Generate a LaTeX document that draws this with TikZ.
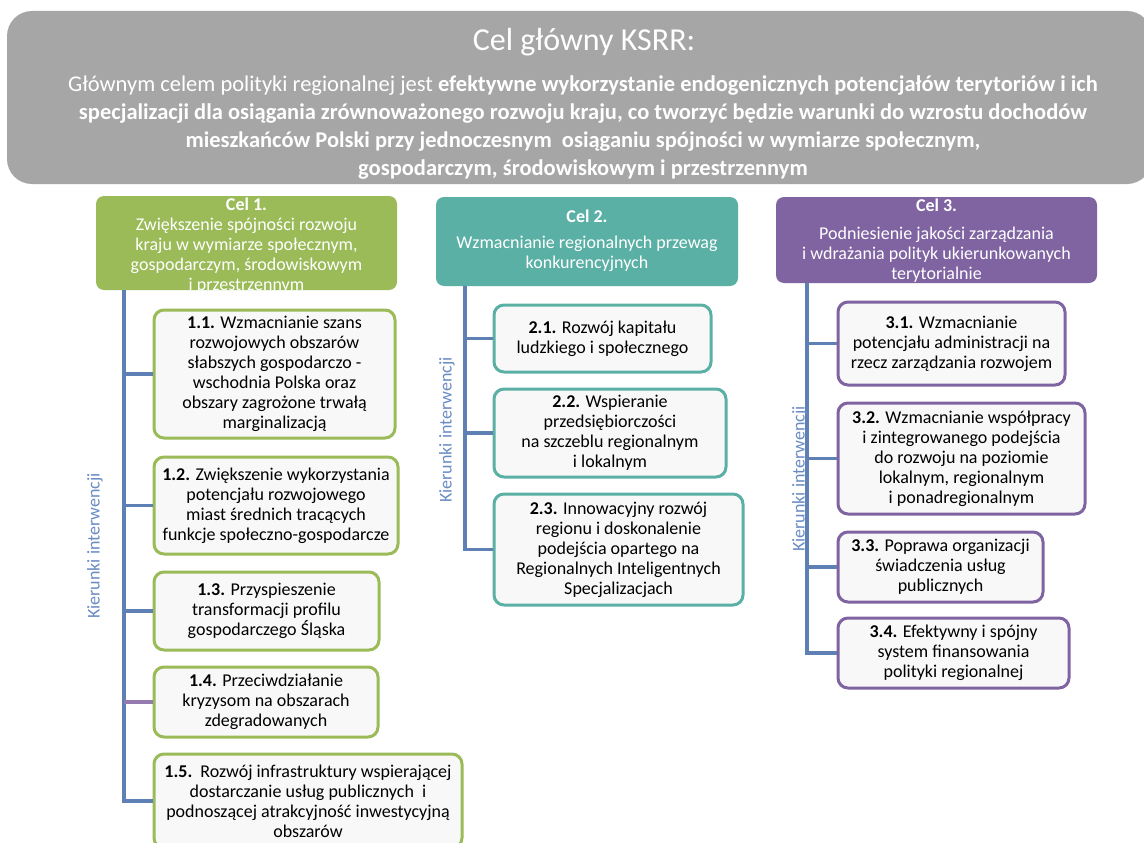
\documentclass[tikz,border=0pt]{standalone}
\usepackage{fontspec}
\setmainfont{Carlito}
\definecolor{topgray}{HTML}{A6A6A6}
\definecolor{cgreen}{HTML}{9BBB59}
\definecolor{cteal}{HTML}{5BB0A5}
\definecolor{cpurple}{HTML}{8064A2}
\definecolor{trunkblue}{HTML}{5F80B5}
\definecolor{labelblue}{HTML}{6A8CC4}
\definecolor{subfill}{HTML}{F8F8F8}
\begin{document}
\begin{tikzpicture}[x=1pt,y=-1pt,
  topbox/.style={fill=topgray, rounded corners=25pt, inner sep=0pt},
  goal/.style={rounded corners=8pt, inner sep=0pt, text=white, align=center,
    font=\fontsize{18}{20}\selectfont},
  goaltext/.style={text=white, align=center, font=\fontsize{18}{20}\selectfont, inner sep=0pt},
  sub/.style={draw, line width=3pt, rounded corners=10pt, fill=subfill, inner sep=0pt,
    align=center, text=black, font=\fontsize{18}{20}\selectfont},
  trunk/.style={draw=trunkblue, line width=3.2pt},
  kier/.style={rotate=90, text=labelblue, font=\fontsize{18}{20}\selectfont, inner sep=0pt}
]
\useasboundingbox (0,0) rectangle (1144,843);
\fill[white] (0,0) rectangle (1144,843);

% main goal
\node[topbox, minimum width=1145pt, minimum height=173pt] (top) at (579.5,97.5) {};
\node[text=white, font=\fontsize{32}{38}\selectfont, inner sep=0pt] (title) at (584,42) {Cel główny KSRR:};
\node[text=white, align=center, font=\fontsize{22.5}{28}\selectfont, inner sep=0pt] (body) at (583,128)
{Głównym celem polityki regionalnej jest \textbf{efektywne wykorzystanie endogenicznych potencjałów terytoriów i ich}\\
\textbf{specjalizacji dla osiągania zrównoważonego rozwoju kraju, co tworzyć będzie warunki do wzrostu dochodów}\\
\textbf{mieszkańców Polski przy jednoczesnym\ \ osiąganiu spójności w wymiarze społecznym,}\\
\textbf{gospodarczym, środowiskowym i przestrzennym}};

% goals
\node[goal, fill=cgreen, minimum width=301pt, minimum height=94pt] (c1) at (246.5,243) {};
\node[goaltext] (c1t) at (246.5,245.5)
{\textbf{Cel 1.}\\Zwiększenie spójności rozwoju\\kraju w wymiarze społecznym,\\gospodarczym, środowiskowym\\i przestrzennym};
\node[goal, fill=cteal, minimum width=302pt, minimum height=89pt] (c2) at (587,241.5) {};
\node[goaltext] (c2t) at (587,241)
{\textbf{Cel 2.}\\[6pt]Wzmacnianie regionalnych przewag\\konkurencyjnych};
\node[goal, fill=cpurple, minimum width=321pt, minimum height=86pt] (c3) at (936.5,240) {};
\node[goaltext] (c3t) at (936.5,240.5)
{\textbf{Cel 3.}\\[8pt]Podniesienie jakości zarządzania\\i wdrażania polityk ukierunkowanych\\terytorialnie};

% column 1
\node[sub, draw=cgreen, minimum width=241pt, minimum height=128pt] (b11) at (274.5,374)
{\textbf{1.1.} Wzmacnianie szans\\rozwojowych obszarów\\słabszych gospodarczo -\\wschodnia Polska oraz\\obszary zagrożone trwałą\\marginalizacją};
\node[sub, draw=cgreen, minimum width=244pt, minimum height=97pt] (b12) at (276,505.5)
{\textbf{1.2.} Zwiększenie wykorzystania\\potencjału rozwojowego\\miast średnich tracących\\funkcje społeczno-gospodarcze};
\node[sub, draw=cgreen, minimum width=225pt, minimum height=78pt] (b13) at (266.5,611)
{\textbf{1.3.} Przyspieszenie\\transformacji profilu\\gospodarczego Śląska};
\node[sub, draw=cgreen, minimum width=224pt, minimum height=70pt] (b14) at (266,702)
{\textbf{1.4.} Przeciwdziałanie\\kryzysom na obszarach\\zdegradowanych};
\node[sub, draw=cgreen, minimum width=308pt, minimum height=94pt] (b15) at (308,801)
{\textbf{1.5.}\ \ Rozwój infrastruktury wspierającej\\dostarczanie usług publicznych\ \ i\\podnoszącej atrakcyjność inwestycyjną\\obszarów};
\coordinate (t1) at (124,290);
\draw[trunk] (t1) |- (b15.west);
\draw[trunk] (t1 |- b11.west) -- (b11.west);
\draw[trunk] (t1 |- b12.west) -- (b12.west);
\draw[trunk] (t1 |- b13.west) -- (b13.west);
\draw[trunk, draw=cpurple!85] (t1 |- b14.west) -- (b14.west);
\node[kier] (k1) at (95,546) {Kierunki interwencji};

% column 2
\node[sub, draw=cteal, minimum width=217pt, minimum height=67pt] (b21) at (602.5,338.5)
{\textbf{2.1.} Rozwój kapitału\\ludzkiego i społecznego};
\node[sub, draw=cteal, minimum width=232pt, minimum height=88pt] (b22) at (610,433)
{\textbf{2.2.} Wspieranie\\przedsiębiorczości\\na szczeblu regionalnym\\i lokalnym};
\node[sub, draw=cteal, minimum width=249pt, minimum height=111pt] (b23) at (618.5,549.5)
{\textbf{2.3.} Innowacyjny rozwój\\regionu i doskonalenie\\podejścia opartego na\\Regionalnych Inteligentnych\\Specjalizacjach};
\coordinate (t2) at (465,286);
\draw[trunk] (t2) |- (b23.west);
\draw[trunk] (t2 |- b21.west) -- (b21.west);
\draw[trunk] (t2 |- b22.west) -- (b22.west);
\node[kier] (k2) at (447,430) {Kierunki interwencji};

% column 3
\node[sub, draw=cpurple, minimum width=227pt, minimum height=83pt] (b31) at (951.5,343.5)
{\textbf{3.1.} Wzmacnianie\\potencjału administracji na\\rzecz zarządzania rozwojem};
\node[sub, draw=cpurple, minimum width=247pt, minimum height=111pt] (b32) at (961.5,458.5)
{\textbf{3.2.} Wzmacnianie współpracy\\i zintegrowanego podejścia\\do rozwoju na poziomie\\lokalnym, regionalnym\\i ponadregionalnym};
\node[sub, draw=cpurple, minimum width=205pt, minimum height=70pt] (b33) at (940.5,567)
{\textbf{3.3.} Poprawa organizacji\\świadczenia usług\\publicznych};
\node[sub, draw=cpurple, minimum width=231pt, minimum height=70pt] (b34) at (953.5,653)
{\textbf{3.4.} Efektywny i spójny\\system finansowania\\polityki regionalnej};
\coordinate (t3) at (807,283);
\draw[trunk] (t3) |- (b34.west);
\draw[trunk] (t3 |- b31.west) -- (b31.west);
\draw[trunk] (t3 |- b32.west) -- (b32.west);
\draw[trunk] (t3 |- b33.west) -- (b33.west);
\node[kier] (k3) at (800,479) {Kierunki interwencji};
\end{tikzpicture}
\end{document}
